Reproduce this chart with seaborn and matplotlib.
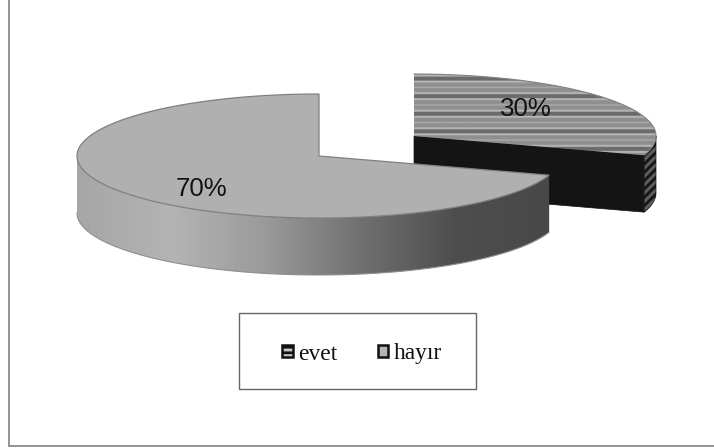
import numpy as np
import matplotlib
matplotlib.use("Agg")
import matplotlib.pyplot as plt
from matplotlib.patches import Polygon, Rectangle, Patch
import seaborn as sns

# data
categories = ["evet", "hayır"]
values = [30, 70]
labels = ["30%", "70%"]

sns.set_theme(style="white")
plt.rcParams["font.family"] = ["Liberation Sans", "DejaVu Sans"]
plt.rcParams["hatch.linewidth"] = 2.0

fig = plt.figure(figsize=(7.14, 4.48), dpi=100, facecolor="white")
ax = fig.add_axes([0, 0, 1, 1])
ax.set_axis_off()

A, B, DEPTH = 242, 62, 57
CENTERS = [(414, 136), (319, 156)]
LABEL_POS = [(526, 108.5), (201, 188.5)]


def arc(c, start, end, n=200):
    t = np.radians(np.linspace(start, end, n))
    return np.column_stack([c[0] + A * np.sin(t), c[1] - B * np.cos(t)])


def side_poly(c, start, end):
    pts = arc(c, start, end)
    low = pts[::-1] + [0, DEPTH]
    return np.vstack([pts, low])


def add_clipped_image(arr, extent, poly, cmap, vmin=0, vmax=1):
    patch = Polygon(poly, closed=True, transform=ax.transData, fc="none", ec="none")
    ax.add_patch(patch)
    im = ax.imshow(arr, extent=extent, aspect="auto", cmap=cmap, vmin=vmin, vmax=vmax,
                   interpolation="bilinear", zorder=patch.get_zorder())
    im.set_clip_path(patch)
    return im


total = sum(values)
fracs = np.cumsum([0] + values) / total * 360
EDGE = "#808080"
DARK = "#141414"

# ---- slice 1 (30%) : striped, exploded right
c0 = CENTERS[0]
a0, a1 = fracs[0], fracs[1]
tip = arc(c0, a1, a1, 1)[0]
ax.add_patch(Polygon([c0, tip, tip + [0, DEPTH], (c0[0], c0[1] + DEPTH)], closed=True,
                     fc=DARK, ec=DARK, lw=0.5, zorder=1))
ax.add_patch(Polygon(side_poly(c0, 90, a1), closed=True, fc="#5c5c5c", ec="#141414",
                     hatch="////", lw=0.5, zorder=1))
top0 = np.vstack([[c0], arc(c0, a0, a1)])
unit = [0.42] * 8 + [0.71] * 4 + [0.56] * 8 + [0.66] * 3 + [0.56] * 8 + [0.71] * 4
stripes = np.array(unit * 7, dtype=float)[:, None]
y_start = 59.5
gray_cmap = sns.blend_palette(["#000000", "#ffffff"], n_colors=256, as_cmap=True)
im = add_clipped_image(stripes, (400, 670, y_start + len(stripes) / 2, y_start), top0, gray_cmap)
im.set_zorder(2)
ax.plot(*arc(c0, a0, a1).T, color=EDGE, lw=0.8, zorder=3)

# ---- slice 2 (70%) : grey with shaded side
c1 = CENTERS[1]
b0, b1 = fracs[1], fracs[2]
side = side_poly(c1, b0, 270)
grad_stops = ["#a6a6a6", "#b4b4b4", "#9a9a9a", "#707070", "#4e4e4e", "#484848"]
grad_cmap = sns.blend_palette(grad_stops, n_colors=256, as_cmap=True)
xs = np.linspace(0, 1, 256)[None, :]
im = add_clipped_image(xs, (c1[0] - A, c1[0] + A * 0.951, c1[1] + 130, c1[1]), side, grad_cmap)
im.set_zorder(4)
arc_low = arc(c1, b0, 270) + [0, DEPTH]
ax.plot(*arc_low.T, color="#8f8f8f", lw=0.8, zorder=5)
top1 = np.vstack([[c1], arc(c1, b0, b1)])
ax.add_patch(Polygon(top1, closed=True, fc="#b0b0b0", ec=EDGE, lw=0.9, zorder=6))

# ---- labels
for (x, y), s in zip(LABEL_POS, labels):
    ax.text(x, y, s, ha="center", va="center", fontsize=18.6, color="#111111", zorder=8)

# ---- frame and legend
ax.plot([9, 9, 714], [0, 446.5, 446.5], color="#808080", lw=1.2, zorder=1, solid_joinstyle="miter")
ax.add_patch(Rectangle((239, 313), 237, 76, fc="white", ec="#666666", lw=1, zorder=7))

handles = [
    Patch(facecolor="#c8c8c8", edgecolor="#111111", hatch="---", lw=1.8, label=categories[0]),
    Patch(facecolor="#b5b5b5", edgecolor="#111111", lw=1.8, label=categories[1]),
]
ax.set_xlim(0, 714)
ax.set_ylim(448, 0)
leg = ax.legend(handles=handles, loc="center", bbox_to_anchor=(362, 354), bbox_transform=ax.transData,
                ncol=2, frameon=False, handlelength=0.43, handleheight=0.43, handletextpad=0.22,
                columnspacing=1.75, borderpad=0, borderaxespad=0,
                prop={"family": "Liberation Serif", "size": 16.9}, labelcolor="#111111")
leg.set_zorder(9)

fig.savefig("out.png", dpi=100, facecolor="white")
